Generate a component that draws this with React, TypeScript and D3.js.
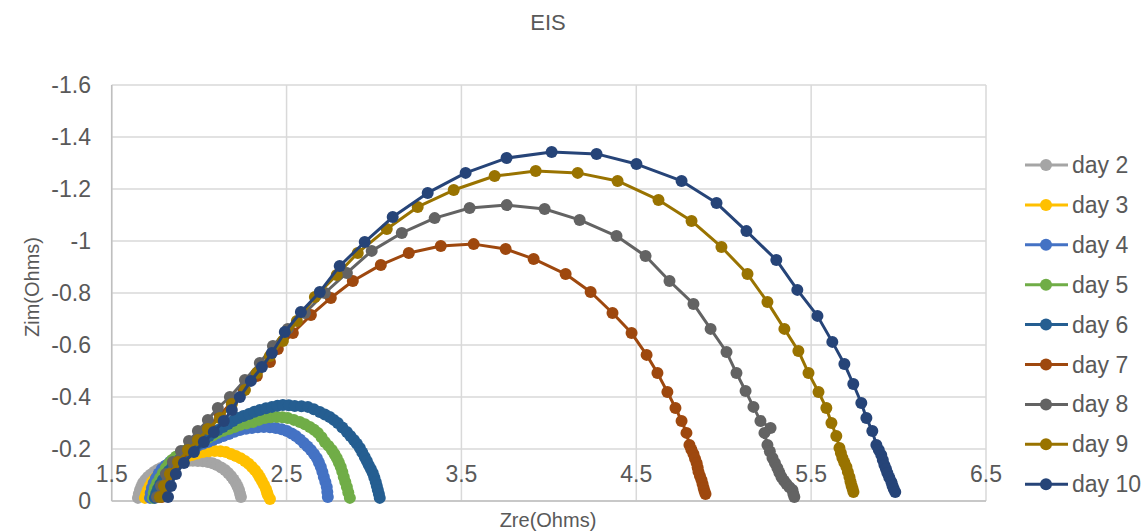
import React from "react";
import * as d3 from "d3";

type Pt = [number, number];

const day2: Pt[] = [[1.650,-0.012],[1.655,-0.027],[1.662,-0.042],[1.670,-0.056],[1.679,-0.069],[1.692,-0.081],[1.707,-0.092],[1.724,-0.102],[1.742,-0.112],[1.762,-0.120],[1.782,-0.127],[1.804,-0.133],[1.827,-0.138],[1.853,-0.142],[1.879,-0.146],[1.907,-0.150],[1.936,-0.154],[1.964,-0.155],[1.993,-0.154],[2.022,-0.153],[2.050,-0.150],[2.077,-0.145],[2.102,-0.138],[2.126,-0.129],[2.148,-0.119],[2.166,-0.108],[2.182,-0.096],[2.197,-0.083],[2.210,-0.069],[2.220,-0.056],[2.228,-0.042],[2.234,-0.028],[2.239,-0.015]];
const day3: Pt[] = [[1.690,-0.012],[1.698,-0.027],[1.707,-0.042],[1.718,-0.058],[1.730,-0.073],[1.747,-0.087],[1.765,-0.100],[1.785,-0.112],[1.805,-0.123],[1.827,-0.133],[1.850,-0.142],[1.876,-0.152],[1.902,-0.162],[1.930,-0.170],[1.959,-0.177],[1.990,-0.183],[2.022,-0.188],[2.056,-0.191],[2.090,-0.192],[2.122,-0.191],[2.153,-0.188],[2.182,-0.181],[2.210,-0.173],[2.237,-0.164],[2.262,-0.154],[2.283,-0.143],[2.302,-0.131],[2.320,-0.118],[2.336,-0.104],[2.348,-0.090],[2.359,-0.077],[2.371,-0.062],[2.382,-0.046],[2.388,-0.034],[2.393,-0.023],[2.405,-0.008]];
const day4: Pt[] = [[1.719,-0.012],[1.723,-0.031],[1.730,-0.050],[1.740,-0.069],[1.753,-0.088],[1.769,-0.106],[1.787,-0.123],[1.809,-0.137],[1.833,-0.150],[1.859,-0.162],[1.885,-0.173],[1.910,-0.183],[1.936,-0.192],[1.964,-0.202],[1.993,-0.212],[2.022,-0.220],[2.050,-0.227],[2.078,-0.235],[2.107,-0.242],[2.138,-0.250],[2.170,-0.258],[2.202,-0.266],[2.233,-0.273],[2.268,-0.278],[2.302,-0.281],[2.336,-0.284],[2.370,-0.285],[2.405,-0.284],[2.439,-0.281],[2.472,-0.276],[2.502,-0.269],[2.529,-0.260],[2.553,-0.250],[2.577,-0.237],[2.599,-0.223],[2.620,-0.210],[2.639,-0.196],[2.657,-0.181],[2.673,-0.165],[2.685,-0.148],[2.696,-0.131],[2.705,-0.112],[2.713,-0.092],[2.722,-0.073],[2.730,-0.054],[2.733,-0.035],[2.736,-0.015]];
const day5: Pt[] = [[1.736,-0.012],[1.740,-0.031],[1.747,-0.050],[1.760,-0.069],[1.776,-0.088],[1.793,-0.108],[1.810,-0.127],[1.827,-0.143],[1.845,-0.158],[1.867,-0.170],[1.890,-0.181],[1.916,-0.193],[1.942,-0.204],[1.968,-0.214],[1.993,-0.223],[2.022,-0.233],[2.050,-0.242],[2.078,-0.252],[2.107,-0.262],[2.138,-0.270],[2.170,-0.277],[2.202,-0.285],[2.233,-0.292],[2.270,-0.298],[2.307,-0.304],[2.342,-0.312],[2.376,-0.319],[2.410,-0.322],[2.445,-0.323],[2.476,-0.322],[2.507,-0.319],[2.542,-0.312],[2.576,-0.304],[2.605,-0.295],[2.633,-0.285],[2.657,-0.274],[2.679,-0.262],[2.700,-0.245],[2.719,-0.227],[2.740,-0.212],[2.759,-0.196],[2.774,-0.181],[2.787,-0.165],[2.799,-0.148],[2.810,-0.131],[2.819,-0.112],[2.827,-0.092],[2.836,-0.073],[2.845,-0.054],[2.853,-0.033],[2.862,-0.012]];
const day6: Pt[] = [[1.747,-0.012],[1.755,-0.029],[1.765,-0.046],[1.778,-0.064],[1.793,-0.081],[1.810,-0.098],[1.827,-0.115],[1.847,-0.131],[1.867,-0.146],[1.890,-0.160],[1.913,-0.173],[1.936,-0.187],[1.959,-0.200],[1.982,-0.212],[2.005,-0.223],[2.030,-0.237],[2.056,-0.250],[2.082,-0.262],[2.107,-0.273],[2.136,-0.285],[2.165,-0.296],[2.193,-0.308],[2.222,-0.319],[2.253,-0.327],[2.285,-0.335],[2.316,-0.343],[2.347,-0.350],[2.382,-0.357],[2.416,-0.362],[2.448,-0.366],[2.479,-0.369],[2.513,-0.368],[2.547,-0.365],[2.585,-0.364],[2.622,-0.362],[2.656,-0.353],[2.690,-0.342],[2.719,-0.333],[2.747,-0.323],[2.770,-0.312],[2.793,-0.300],[2.819,-0.283],[2.845,-0.265],[2.865,-0.250],[2.885,-0.235],[2.902,-0.220],[2.919,-0.204],[2.933,-0.187],[2.947,-0.169],[2.959,-0.154],[2.970,-0.138],[2.982,-0.123],[2.993,-0.108],[3.002,-0.090],[3.010,-0.073],[3.016,-0.058],[3.022,-0.042],[3.028,-0.027],[3.033,-0.012]];
const day7: Pt[] = [[1.787,-0.015],[1.810,-0.058],[1.845,-0.104],[1.890,-0.150],[1.942,-0.196],[1.999,-0.242],[2.056,-0.288],[2.119,-0.331],[2.187,-0.381],[2.256,-0.427],[2.330,-0.481],[2.405,-0.535],[2.450,-0.585],[2.536,-0.646],[2.639,-0.715],[2.753,-0.781],[2.879,-0.846],[3.039,-0.908],[3.199,-0.954],[3.382,-0.981],[3.570,-0.988],[3.753,-0.969],[3.913,-0.931],[4.096,-0.873],[4.239,-0.804],[4.364,-0.723],[4.473,-0.646],[4.559,-0.562],[4.621,-0.492],[4.678,-0.419],[4.724,-0.358],[4.759,-0.308],[4.787,-0.262],[4.804,-0.215],[4.815,-0.198],[4.827,-0.181],[4.836,-0.163],[4.845,-0.146],[4.851,-0.129],[4.856,-0.112],[4.864,-0.096],[4.873,-0.081],[4.879,-0.065],[4.885,-0.050],[4.890,-0.038],[4.896,-0.027]];
const day8: Pt[] = [[1.759,-0.015],[1.782,-0.058],[1.810,-0.104],[1.850,-0.150],[1.896,-0.192],[1.942,-0.231],[1.993,-0.269],[2.050,-0.312],[2.107,-0.358],[2.176,-0.400],[2.262,-0.465],[2.347,-0.531],[2.422,-0.596],[2.507,-0.662],[2.605,-0.723],[2.719,-0.800],[2.845,-0.877],[2.987,-0.962],[3.159,-1.031],[3.347,-1.088],[3.547,-1.127],[3.759,-1.138],[3.976,-1.123],[4.176,-1.081],[4.387,-1.019],[4.553,-0.942],[4.690,-0.846],[4.827,-0.758],[4.925,-0.662],[5.016,-0.573],[5.073,-0.492],[5.125,-0.423],[5.170,-0.362],[5.210,-0.308],[5.268,-0.281],[5.233,-0.262],[5.250,-0.215],[5.264,-0.190],[5.279,-0.165],[5.293,-0.146],[5.307,-0.127],[5.318,-0.110],[5.330,-0.092],[5.345,-0.078],[5.359,-0.065],[5.376,-0.053],[5.393,-0.042],[5.398,-0.028],[5.404,-0.015]];
const day9: Pt[] = [[1.776,-0.015],[1.799,-0.058],[1.833,-0.104],[1.879,-0.150],[1.936,-0.196],[1.993,-0.235],[2.050,-0.277],[2.119,-0.319],[2.187,-0.373],[2.262,-0.427],[2.330,-0.492],[2.405,-0.558],[2.479,-0.615],[2.559,-0.692],[2.662,-0.785],[2.787,-0.869],[2.907,-0.954],[3.073,-1.046],[3.250,-1.131],[3.456,-1.196],[3.690,-1.250],[3.925,-1.269],[4.165,-1.262],[4.393,-1.231],[4.627,-1.158],[4.816,-1.077],[4.987,-0.977],[5.136,-0.873],[5.250,-0.765],[5.347,-0.662],[5.427,-0.577],[5.485,-0.492],[5.542,-0.419],[5.587,-0.358],[5.616,-0.300],[5.644,-0.250],[5.662,-0.204],[5.670,-0.185],[5.679,-0.165],[5.690,-0.148],[5.702,-0.131],[5.710,-0.112],[5.719,-0.092],[5.725,-0.075],[5.731,-0.060],[5.737,-0.047],[5.742,-0.035]];
const day10: Pt[] = [[1.822,-0.015],[1.839,-0.058],[1.867,-0.104],[1.913,-0.146],[1.970,-0.188],[2.027,-0.227],[2.084,-0.265],[2.141,-0.308],[2.187,-0.350],[2.233,-0.400],[2.296,-0.462],[2.359,-0.515],[2.416,-0.569],[2.490,-0.650],[2.582,-0.727],[2.690,-0.804],[2.804,-0.904],[2.947,-0.996],[3.107,-1.092],[3.307,-1.185],[3.524,-1.262],[3.758,-1.319],[4.016,-1.342],[4.273,-1.335],[4.501,-1.296],[4.759,-1.231],[4.959,-1.146],[5.130,-1.038],[5.301,-0.927],[5.421,-0.812],[5.536,-0.712],[5.621,-0.612],[5.690,-0.527],[5.741,-0.450],[5.787,-0.377],[5.816,-0.319],[5.850,-0.269],[5.873,-0.215],[5.887,-0.196],[5.901,-0.177],[5.910,-0.158],[5.919,-0.138],[5.928,-0.123],[5.936,-0.108],[5.947,-0.090],[5.959,-0.073],[5.965,-0.060],[5.972,-0.047],[5.981,-0.035]];

const seriesNames = ["day 2", "day 3", "day 4", "day 5", "day 6", "day 7", "day 8", "day 9", "day 10"];
const seriesData: Pt[][] = [day2, day3, day4, day5, day6, day7, day8, day9, day10];
const seriesColors = ["#A5A5A5", "#FFC000", "#4472C4", "#70AD47", "#255E91", "#9E480E", "#636363", "#997300", "#264478"];

const xTicks = [1.5, 2.5, 3.5, 4.5, 5.5, 6.5];
const yTicks = [0, -0.2, -0.4, -0.6, -0.8, -1, -1.2, -1.4, -1.6];

const W = 1148;
const H = 532;
const FONT = "'Liberation Sans', Arial, sans-serif";
const TEXT = "#595959";
const R = 6;
const SW = 3;

export default function App() {
  const x = d3.scaleLinear().domain([1.5, 6.5]).range([111.7, 986]);
  const y = d3.scaleLinear().domain([0, -1.6]).range([501, 85]);
  const line = d3.line<Pt>().x((d) => x(d[0])).y((d) => y(d[1]));

  return (
    <svg width={W} height={H} style={{ position: "absolute", left: 0, top: 0, background: "#fff" }} fontFamily={FONT}>
      <rect x={0} y={0} width={W} height={H} fill="#fff" />
      <text x={548} y={30} textAnchor="middle" fontSize={22} fill={TEXT}>EIS</text>

      {yTicks.map((t) => (
        <line key={"gy" + t} x1={x(1.5)} x2={x(6.5)} y1={y(t)} y2={y(t)} stroke="#D9D9D9" strokeWidth={1.5} />
      ))}
      {xTicks.map((t) => (
        <line key={"gx" + t} x1={x(t)} x2={x(t)} y1={y(0)} y2={y(-1.6)} stroke="#D9D9D9" strokeWidth={1.5} />
      ))}
      <line x1={x(1.5)} x2={x(1.5)} y1={y(0)} y2={y(-1.6)} stroke="#BFBFBF" strokeWidth={1.5} />
      <line x1={x(1.5)} x2={x(6.5)} y1={y(0)} y2={y(0)} stroke="#BFBFBF" strokeWidth={1.5} />

      {yTicks.map((t) => (
        <text key={"ty" + t} x={91} y={y(t)} dy="0.35em" textAnchor="end" fontSize={23} fill={TEXT}>
          {String(t)}
        </text>
      ))}
      {xTicks.map((t) => (
        <text key={"tx" + t} x={x(t)} y={482} textAnchor="middle" fontSize={23} fill={TEXT}>
          {t.toFixed(1)}
        </text>
      ))}

      <text x={548} y={527} textAnchor="middle" fontSize={20} fill={TEXT}>Zre(Ohms)</text>
      <text transform="translate(39,287) rotate(-90)" textAnchor="middle" fontSize={20} fill={TEXT}>Zim(Ohms)</text>

      {seriesData.map((data, i) => (
        <g key={seriesNames[i]}>
          <path d={line(data) || ""} fill="none" stroke={seriesColors[i]} strokeWidth={SW} strokeLinejoin="round" />
          {data.map((d, j) => (
            <circle key={j} cx={x(d[0])} cy={y(d[1])} r={R} fill={seriesColors[i]} />
          ))}
        </g>
      ))}

      {seriesNames.map((n, i) => {
        const ly = 165 + i * 39.9;
        return (
          <g key={"lg" + n}>
            <line x1={1025} x2={1068} y1={ly} y2={ly} stroke={seriesColors[i]} strokeWidth={SW} />
            <circle cx={1046} cy={ly} r={R} fill={seriesColors[i]} />
            <text x={1072} y={ly} dy="0.35em" fontSize={23} fill={TEXT}>{n}</text>
          </g>
        );
      })}
    </svg>
  );
}
